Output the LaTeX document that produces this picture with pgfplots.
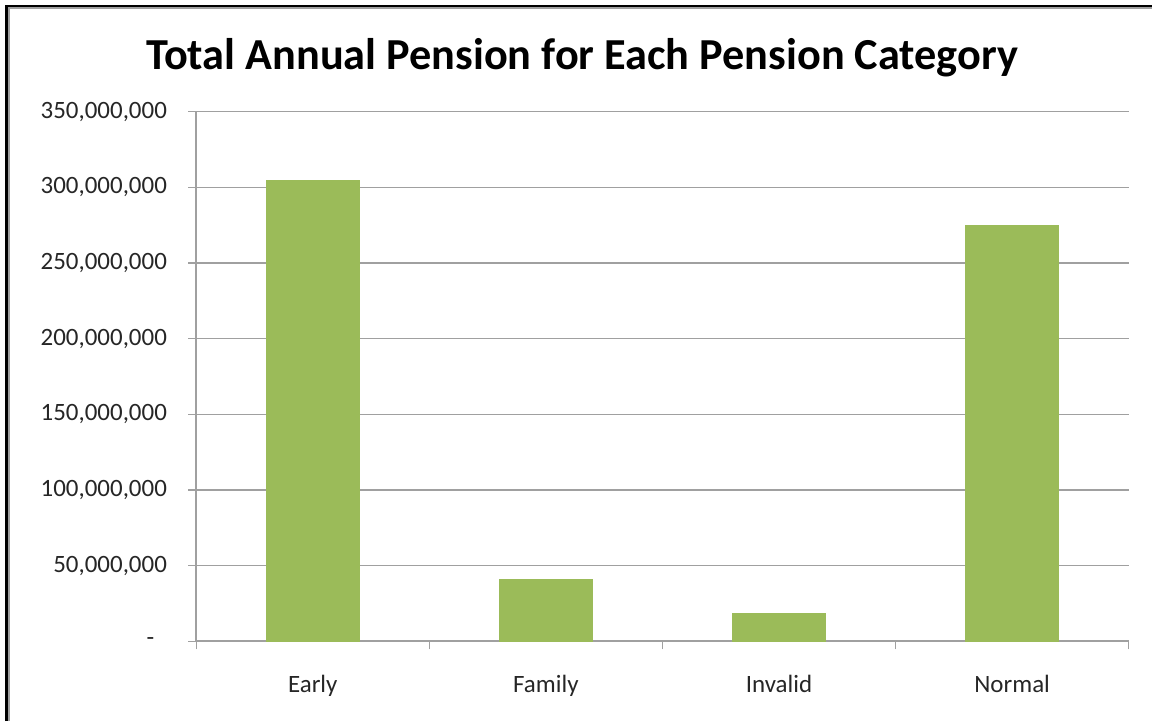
\documentclass[border=0pt]{standalone}
\usepackage{pgfplots}
\pgfplotsset{compat=1.18}
\usepackage{fontspec}
\setmainfont{Carlito}
\definecolor{bargreen}{HTML}{9BBB59}
\definecolor{gridgray}{HTML}{A0A0A0}
\definecolor{labelgray}{HTML}{262626}
\begin{document}
\begin{tikzpicture}
\begin{axis}[
  scale only axis,
  width=467.5pt, height=265.5pt,
  xmin=0, xmax=4, ymin=0, ymax=350000000,
  enlarge x limits=false,
  axis lines*=left,
  axis line style={-, draw=gridgray, line width=0.9pt},
  ymajorgrids, grid style={draw=gridgray, line width=0.6pt},
  tick align=outside,
  major tick length=4pt, minor tick length=4pt,
  tick style={draw=gridgray, line width=0.6pt},
  xtick={0.5,1.5,2.5,3.5},
  xticklabels={Early,Family,Invalid,Normal},
  minor xtick={0,1,2,3,4},
  major x tick style={draw=none},
  ytick={0,50000000,100000000,150000000,200000000,250000000,300000000,350000000},
  yticklabels={{-\hphantom{0}},{50,000,000},{100,000,000},{150,000,000},{200,000,000},{250,000,000},{300,000,000},{350,000,000}},
  scaled y ticks=false,
  tick label style={font=\fontsize{12.5}{14}\selectfont, text=labelgray},
  yticklabel style={anchor=east, inner sep=0pt, xshift=-10.5pt},
  xticklabel style={anchor=base, inner sep=0pt, yshift=-21.5pt},
]
\addplot[ybar, bar width=46.5pt, fill=bargreen, draw=bargreen] coordinates {
  (0.5,304300000) (1.5,40700000) (2.5,18300000) (3.5,274600000)
};
\end{axis}
\node[anchor=base, font=\fontsize{22.2}{26}\selectfont\bfseries] at (193.4pt,286.5pt) {Total Annual Pension for Each Pension Category};
\draw[black, line width=1.35pt] (-95.2pt,-40pt) -- (-95.2pt,318.5pt) -- (479pt,318.5pt);
\draw[gridgray, line width=1.1pt] (-93.95pt,-40pt) -- (-93.95pt,317.3pt) -- (479pt,317.3pt);
\path[use as bounding box] (-98.35pt,-39pt) rectangle (478.15pt,321.5pt);
\end{tikzpicture}
\end{document}
